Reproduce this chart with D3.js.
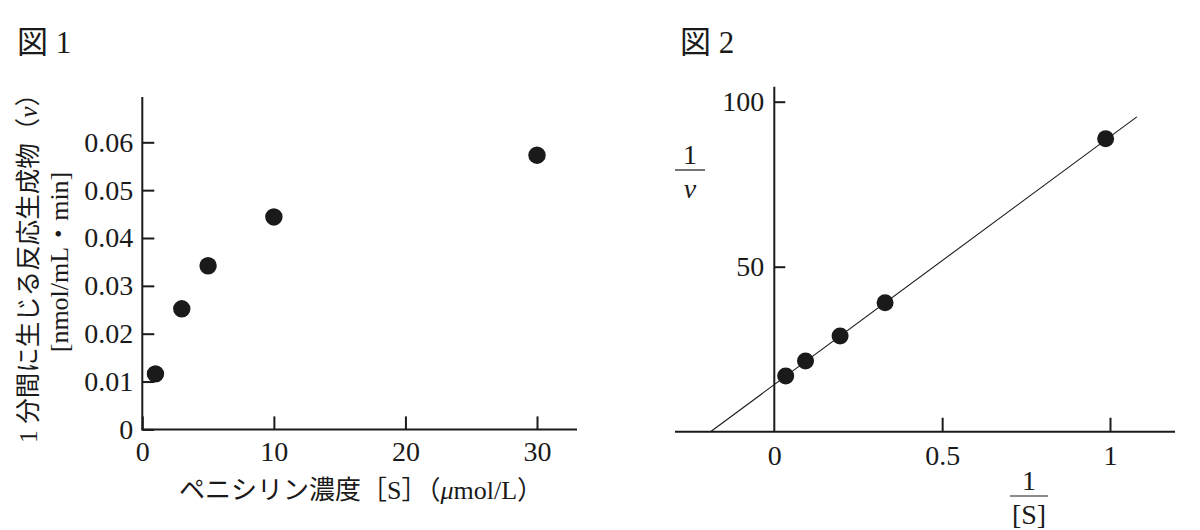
<!DOCTYPE html>
<html>
<head>
<meta charset="utf-8">
<script src="https://cdn.jsdelivr.net/npm/d3@7"></script>
<style>
  body { margin: 0; background: #fff; }
  text { fill: #1a1a1a; font-family: "Liberation Serif", "DejaVu Serif", "Noto Sans CJK JP", serif; }
</style>
</head>
<body>
<div id="chart"></div>
<script>
// Figure 1: penicillin concentration vs rate
const concS = [1, 3, 5, 10, 30]
const rateV = [0.0116, 0.0252, 0.0342, 0.0444, 0.0573]
const fig1XTicks = [0, 10, 20, 30]
const fig1YTicks = [0, 0.01, 0.02, 0.03, 0.04, 0.05, 0.06]

// Figure 2: double reciprocal plot
const invS = [0.034, 0.093, 0.196, 0.33, 0.987]
const invV = [16.9, 21.4, 29.0, 39.1, 88.8]
const fitX = [-0.19, 1.08]
const fitY = [0, 95.4]
const fig2XTicks = [0, 0.5, 1]
const fig2YTicks = [50, 100]

const WIDTH = 1200
const HEIGHT = 530
const INK = "#1a1a1a"

let svg = d3.select("#chart").append("svg")
    .attr("width", WIDTH)
    .attr("height", HEIGHT)

// ---------- Figure 1 ----------
const P1 = {LEFT:142.3, RIGHT:577, TOP:97, BOTTOM:429.4}

let x1 = d3.scaleLinear().domain([0, 30]).range([P1.LEFT, 537])
let y1 = d3.scaleLinear().domain([0, 0.06]).range([P1.BOTTOM, 142.3])

svg.append("text")
    .attr("x", 17).attr("y", 53)
    .style("font-size", "31px")
    .text("図 1")

// axis lines
svg.append("line")
    .attr("x1", P1.LEFT).attr("x2", P1.LEFT)
    .attr("y1", P1.TOP).attr("y2", P1.BOTTOM)
    .attr("stroke", INK).attr("stroke-width", 2)
svg.append("line")
    .attr("x1", P1.LEFT - 1).attr("x2", P1.RIGHT)
    .attr("y1", P1.BOTTOM).attr("y2", P1.BOTTOM)
    .attr("stroke", INK).attr("stroke-width", 2)

let yAxis1 = svg.append("g")
    .attr("transform", "translate(" + P1.LEFT + ",0)")
    .call(d3.axisLeft(y1).tickValues(fig1YTicks).tickSizeInner(-12).tickSizeOuter(0).tickPadding(9)
        .tickFormat(d => d === 0 ? "0" : d3.format(".2f")(d)))
yAxis1.select(".domain").remove()
yAxis1.selectAll("line").attr("stroke", INK).attr("stroke-width", 2)
yAxis1.selectAll("text").style("font-size", "28px").attr("font-family", null)

let xAxis1 = svg.append("g")
    .attr("transform", "translate(0," + P1.BOTTOM + ")")
    .call(d3.axisBottom(x1).tickValues(fig1XTicks).tickSizeInner(-13).tickSizeOuter(0).tickPadding(12))
xAxis1.select(".domain").remove()
xAxis1.selectAll("line").attr("stroke", INK).attr("stroke-width", 2)
xAxis1.selectAll("text").style("font-size", "28px").attr("font-family", null)

svg.append("g").selectAll("circle")
    .data(concS.map((s, i) => ({s: s, v: rateV[i]})))
    .enter()
    .append("circle")
        .attr("cx", d => x1(d.s))
        .attr("cy", d => y1(d.v))
        .attr("r", 8.7)
        .attr("fill", INK)

// axis titles
let xt1 = svg.append("text")
    .attr("x", 361).attr("y", 490)
    .attr("text-anchor", "middle")
    .attr("dominant-baseline", "central")
    .style("font-size", "26px")
xt1.append("tspan").text("ペニシリン濃度［S］（")
xt1.append("tspan").style("font-style", "italic").text("μ")
xt1.append("tspan").text("mol/L）")

let yTitle = svg.append("g").attr("transform", "translate(28,262) rotate(-90)")
let yt1 = yTitle.append("text")
    .attr("text-anchor", "middle")
    .attr("dominant-baseline", "central")
    .style("font-size", "25.5px")
yt1.append("tspan").text("1 分間に生じる反応生成物（")
yt1.append("tspan").style("font-style", "italic").text("v")
yt1.append("tspan").text("）")
yTitle.append("text")
    .attr("y", 31)
    .attr("text-anchor", "middle")
    .attr("dominant-baseline", "central")
    .style("font-size", "26px")
    .text("[nmol/mL・min]")

// ---------- Figure 2 ----------
const P2 = {LEFT:675, RIGHT:1175, TOP:86.7, BOTTOM:431.7}

let x2 = d3.scaleLinear().domain([0, 1]).range([774.3, 1110])
let y2 = d3.scaleLinear().domain([0, 100]).range([P2.BOTTOM, 101.7])

svg.append("text")
    .attr("x", 680).attr("y", 53)
    .style("font-size", "31px")
    .text("図 2")

svg.append("line")
    .attr("x1", x2(0)).attr("x2", x2(0))
    .attr("y1", P2.TOP).attr("y2", P2.BOTTOM)
    .attr("stroke", INK).attr("stroke-width", 2)
svg.append("line")
    .attr("x1", P2.LEFT).attr("x2", P2.RIGHT)
    .attr("y1", P2.BOTTOM).attr("y2", P2.BOTTOM)
    .attr("stroke", INK).attr("stroke-width", 2)

let yAxis2 = svg.append("g")
    .attr("transform", "translate(" + x2(0) + ",0)")
    .call(d3.axisLeft(y2).tickValues(fig2YTicks).tickSizeInner(-11).tickSizeOuter(0).tickPadding(10))
yAxis2.select(".domain").remove()
yAxis2.selectAll("line").attr("stroke", INK).attr("stroke-width", 2)
yAxis2.selectAll("text").style("font-size", "28px").attr("font-family", null)

let xAxis2 = svg.append("g")
    .attr("transform", "translate(0," + P2.BOTTOM + ")")
    .call(d3.axisBottom(x2).tickValues(fig2XTicks).tickSizeInner(-14).tickSizeOuter(0).tickPadding(13)
        .tickFormat(d => String(d)))
xAxis2.select(".domain").remove()
xAxis2.selectAll("line").attr("stroke", INK).attr("stroke-width", 2)
    .attr("opacity", d => d === 0 ? 0 : 1)
xAxis2.selectAll("text").style("font-size", "28px").attr("font-family", null)

// fitted line
svg.append("path")
    .datum(fitX.map((x, i) => [x, fitY[i]]))
    .attr("d", d3.line().x(d => x2(d[0])).y(d => y2(d[1])))
    .attr("fill", "none")
    .attr("stroke", INK)
    .attr("stroke-width", 1.1)

svg.append("g").selectAll("circle")
    .data(invS.map((s, i) => ({s: s, v: invV[i]})))
    .enter()
    .append("circle")
        .attr("cx", d => x2(d.s))
        .attr("cy", d => y2(d.v))
        .attr("r", 8.5)
        .attr("fill", INK)

// fraction labels
function fraction(cx, cy, top, halfWidth, italicBottom, bottomText) {
    svg.append("text")
        .attr("x", cx).attr("y", cy - 16)
        .attr("text-anchor", "middle")
        .attr("dominant-baseline", "central")
        .style("font-size", "28px")
        .text(top)
    svg.append("line")
        .attr("x1", cx - halfWidth).attr("x2", cx + halfWidth)
        .attr("y1", cy).attr("y2", cy)
        .attr("stroke", INK).attr("stroke-width", 1.2)
    svg.append("text")
        .attr("x", cx).attr("y", cy + 18)
        .attr("text-anchor", "middle")
        .attr("dominant-baseline", "central")
        .style("font-size", "28px")
        .style("font-style", italicBottom ? "italic" : "normal")
        .text(bottomText)
}
fraction(690, 170, "1", 15, true, "v")
fraction(1029, 496, "1", 19, false, "[S]")
</script>
</body>
</html>
